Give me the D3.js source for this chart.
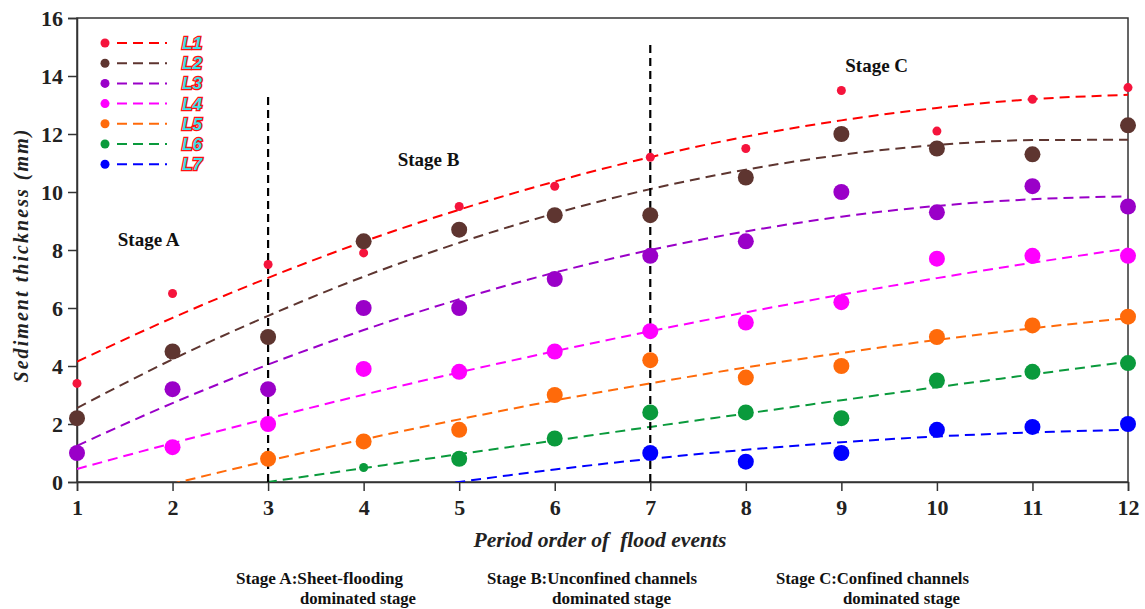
<!DOCTYPE html>
<html>
<head>
<meta charset="utf-8">
<script src="https://cdn.jsdelivr.net/npm/d3@7"></script>
<style>
  body { margin: 0; background: #fff; }
  svg { display: block; }
</style>
</head>
<body>
<div id="chart"></div>
<script>
// x categories (flood event order)
var periods = [1, 2, 3, 4, 5, 6, 7, 8, 9, 10, 11, 12];
var seriesNames = ["L1", "L2", "L3", "L4", "L5", "L6", "L7"];

// measured thickness (mm), null = no point
var L1 = [3.4, 6.5, 7.5, 7.9, 9.5, 10.2, 11.2, 11.5, 13.5, 12.1, 13.2, 13.6];
var L2 = [2.2, 4.5, 5.0, 8.3, 8.7, 9.2, 9.2, 10.5, 12.0, 11.5, 11.3, 12.3];
var L3 = [1.0, 3.2, 3.2, 6.0, 6.0, 7.0, 7.8, 8.3, 10.0, 9.3, 10.2, 9.5];
var L4 = [null, 1.2, 2.0, 3.9, 3.8, 4.5, 5.2, 5.5, 6.2, 7.7, 7.8, 7.8];
var L5 = [null, null, 0.8, 1.4, 1.8, 3.0, 4.2, 3.6, 4.0, 5.0, 5.4, 5.7];
var L6 = [null, null, null, 0.5, 0.8, 1.5, 2.4, 2.4, 2.2, 3.5, 3.8, 4.1];
var L7 = [null, null, null, null, null, null, 1.0, 0.7, 1.0, 1.8, 1.9, 2.0];

// trend lines at each period (below 0 is clipped)
var T1 = [4.15, 5.66, 7.04, 8.29, 9.39, 10.36, 11.2, 11.91, 12.47, 12.9, 13.2, 13.35];
var T2 = [2.55, 4.23, 5.73, 7.08, 8.25, 9.26, 10.1, 10.77, 11.28, 11.62, 11.79, 11.8];
var T3 = [1.25, 2.72, 4.05, 5.24, 6.30, 7.22, 8.0, 8.64, 9.15, 9.52, 9.75, 9.85];
var T4 = [0.45, 1.34, 2.19, 3.01, 3.78, 4.51, 5.2, 5.85, 6.46, 7.03, 7.56, 8.05];
var T5 = [-0.89, -0.06, 0.73, 1.47, 2.16, 2.81, 3.4, 3.95, 4.45, 4.90, 5.30, 5.65];
var T6 = [-0.98, -0.49, 0.0, 0.48, 0.96, 1.43, 1.9, 2.36, 2.82, 3.27, 3.71, 4.15];
var T7 = [-2.29, -1.63, -1.03, -0.49, 0.0, 0.43, 0.8, 1.11, 1.37, 1.57, 1.71, 1.8];

var yTicks = [0, 2, 4, 6, 8, 10, 12, 14, 16];

// stage divider lines
var dividerX = [3, 7];
var dividerTop = [13.3, 15.1];

var stageNames = ["Stage A", "Stage B", "Stage C"];
var stageAt = [[1.75, 8.14], [4.68, 10.9], [9.37, 14.14]];
var stageNotes = [
  ["Stage A:Sheet-flooding", "dominated stage"],
  ["Stage B:Unconfined channels", "dominated stage"],
  ["Stage C:Confined channels", "dominated stage"]
];

var points = [L1, L2, L3, L4, L5, L6, L7];
var trends = [T1, T2, T3, T4, T5, T6, T7];

var dotColors = ["#f5143c", "#5e3530", "#9a00c8", "#ff00ff", "#ff6a0a", "#0a9a3c", "#0000ff"];
var lineColors = ["#ff0000", "#5e3530", "#9a00c8", "#ff00ff", "#ff6a0a", "#0a9a3c", "#0000ff"];

var width = 1145, height = 609;
var margin = { left: 77, right: 17, top: 18, bottom: 127 };
var serif = "'Liberation Serif', 'Times New Roman', serif";

var svg = d3.select("#chart").append("svg")
  .attr("width", width)
  .attr("height", height);

var x = d3.scaleLinear().domain([1, 12]).range([margin.left, width - margin.right]);
var y = d3.scaleLinear().domain([0, 16]).range([height - margin.bottom, margin.top]);

svg.append("clipPath").attr("id", "plotclip")
  .append("rect")
  .attr("x", x(1)).attr("y", y(16))
  .attr("width", x(12) - x(1)).attr("height", y(0) - y(16));

// frame
svg.append("rect")
  .attr("x", x(1)).attr("y", y(16))
  .attr("width", x(12) - x(1)).attr("height", y(0) - y(16))
  .attr("fill", "none").attr("stroke", "#333").attr("stroke-width", 1.5);

// axes
var xAxis = svg.append("g")
  .attr("transform", "translate(0," + y(0) + ")")
  .call(d3.axisBottom(x).tickValues(periods).tickSize(9).tickPadding(8).tickFormat(d3.format("d")));
var yAxis = svg.append("g")
  .attr("transform", "translate(" + x(1) + ",0)")
  .call(d3.axisLeft(y).tickValues(yTicks).tickSize(9).tickPadding(5));

[xAxis, yAxis].forEach(function (g) {
  g.select(".domain").attr("stroke", "#333").attr("stroke-width", 1.5);
  g.selectAll(".tick line").attr("stroke", "#333").attr("stroke-width", 1.5);
  g.selectAll(".tick text")
    .attr("fill", "#222")
    .style("font-family", serif)
    .style("font-weight", "bold")
    .style("font-size", "22px");
});
yAxis.selectAll(".tick text").attr("dy", "0.36em");

var plot = svg.append("g").attr("clip-path", "url(#plotclip)");

// trend lines
var line = d3.line()
  .x(function (d, i) { return x(periods[i]); })
  .y(function (d) { return y(d); })
  .curve(d3.curveMonotoneX);

trends.forEach(function (t, k) {
  plot.append("path")
    .attr("d", line(t))
    .attr("fill", "none")
    .attr("stroke", lineColors[k])
    .attr("stroke-width", 2)
    .attr("stroke-dasharray", "10,6");
});

// stage dividers
dividerX.forEach(function (d, i) {
  svg.append("line")
    .attr("x1", x(d)).attr("x2", x(d))
    .attr("y1", y(0)).attr("y2", y(dividerTop[i]))
    .attr("stroke", "#000")
    .attr("stroke-width", 2.2)
    .attr("stroke-dasharray", "8,5");
});

// scatter points
var smallPts = { "L6": [4] };
points.forEach(function (vals, k) {
  var name = seriesNames[k];
  svg.append("g").selectAll("circle")
    .data(vals.map(function (v, i) { return { v: v, p: periods[i] }; }).filter(function (d) { return d.v !== null; }))
    .enter()
    .append("circle")
    .attr("cx", function (d) { return x(d.p); })
    .attr("cy", function (d) { return y(d.v); })
    .attr("r", function (d) {
      if (k === 0) return 4.5;
      if (smallPts[name] && smallPts[name].indexOf(d.p) >= 0) return 4.5;
      return 8;
    })
    .attr("fill", dotColors[k]);
});

// stage labels inside the plot
stageNames.forEach(function (s, i) {
  svg.append("text")
    .attr("x", x(stageAt[i][0]))
    .attr("y", y(stageAt[i][1]))
    .attr("text-anchor", "middle")
    .style("font-family", serif)
    .style("font-weight", "bold")
    .style("font-size", "19px")
    .attr("fill", "#111")
    .text(s);
});

// legend
var legend = svg.append("g").attr("transform", "translate(105,43)");
seriesNames.forEach(function (s, i) {
  var row = legend.append("g").attr("transform", "translate(0," + i * 20.2 + ")");
  row.append("circle").attr("r", 4.5).attr("fill", dotColors[i]);
  row.append("line")
    .attr("x1", 12).attr("x2", 62)
    .attr("stroke", lineColors[i])
    .attr("stroke-width", 2)
    .attr("stroke-dasharray", "10,6");
  row.append("text")
    .attr("x", 77).attr("y", 6)
    .style("font-family", "'Liberation Sans', Arial, sans-serif")
    .style("font-weight", "bold")
    .style("font-style", "italic")
    .style("font-size", "17px")
    .attr("fill", "#3fe0e6")
    .attr("stroke", "#ff1010")
    .attr("stroke-width", 2.6)
    .attr("paint-order", "stroke")
    .text(s);
});

// axis titles
svg.append("text")
  .attr("transform", "translate(28,256) rotate(-90)")
  .attr("text-anchor", "middle")
  .attr("textLength", 253)
  .attr("lengthAdjust", "spacing")
  .style("font-family", serif)
  .style("font-weight", "bold")
  .style("font-style", "italic")
  .style("font-size", "20px")
  .attr("fill", "#222")
  .text("Sediment thickness (mm)");

svg.append("text")
  .attr("x", 600).attr("y", 547)
  .attr("text-anchor", "middle")
  .attr("textLength", 253)
  .attr("lengthAdjust", "spacingAndGlyphs")
  .style("font-family", serif)
  .style("font-weight", "bold")
  .style("font-style", "italic")
  .style("font-size", "21px")
  .attr("fill", "#222")
  .attr("xml:space", "preserve")
  .text("Period order of  flood events");

// stage notes under the axis
var noteX = [[236, 300], [487, 552], [776, 843]];
var noteW = [[167, 116], [210, 119], [193, 117]];
stageNotes.forEach(function (n, i) {
  n.forEach(function (t, j) {
    svg.append("text")
      .attr("x", noteX[i][j])
      .attr("y", 584 + j * 20)
      .attr("textLength", noteW[i][j])
      .attr("lengthAdjust", "spacingAndGlyphs")
      .style("font-family", serif)
      .style("font-weight", "bold")
      .style("font-size", "16px")
      .attr("fill", "#111")
      .text(t);
  });
});
</script>
</body>
</html>
